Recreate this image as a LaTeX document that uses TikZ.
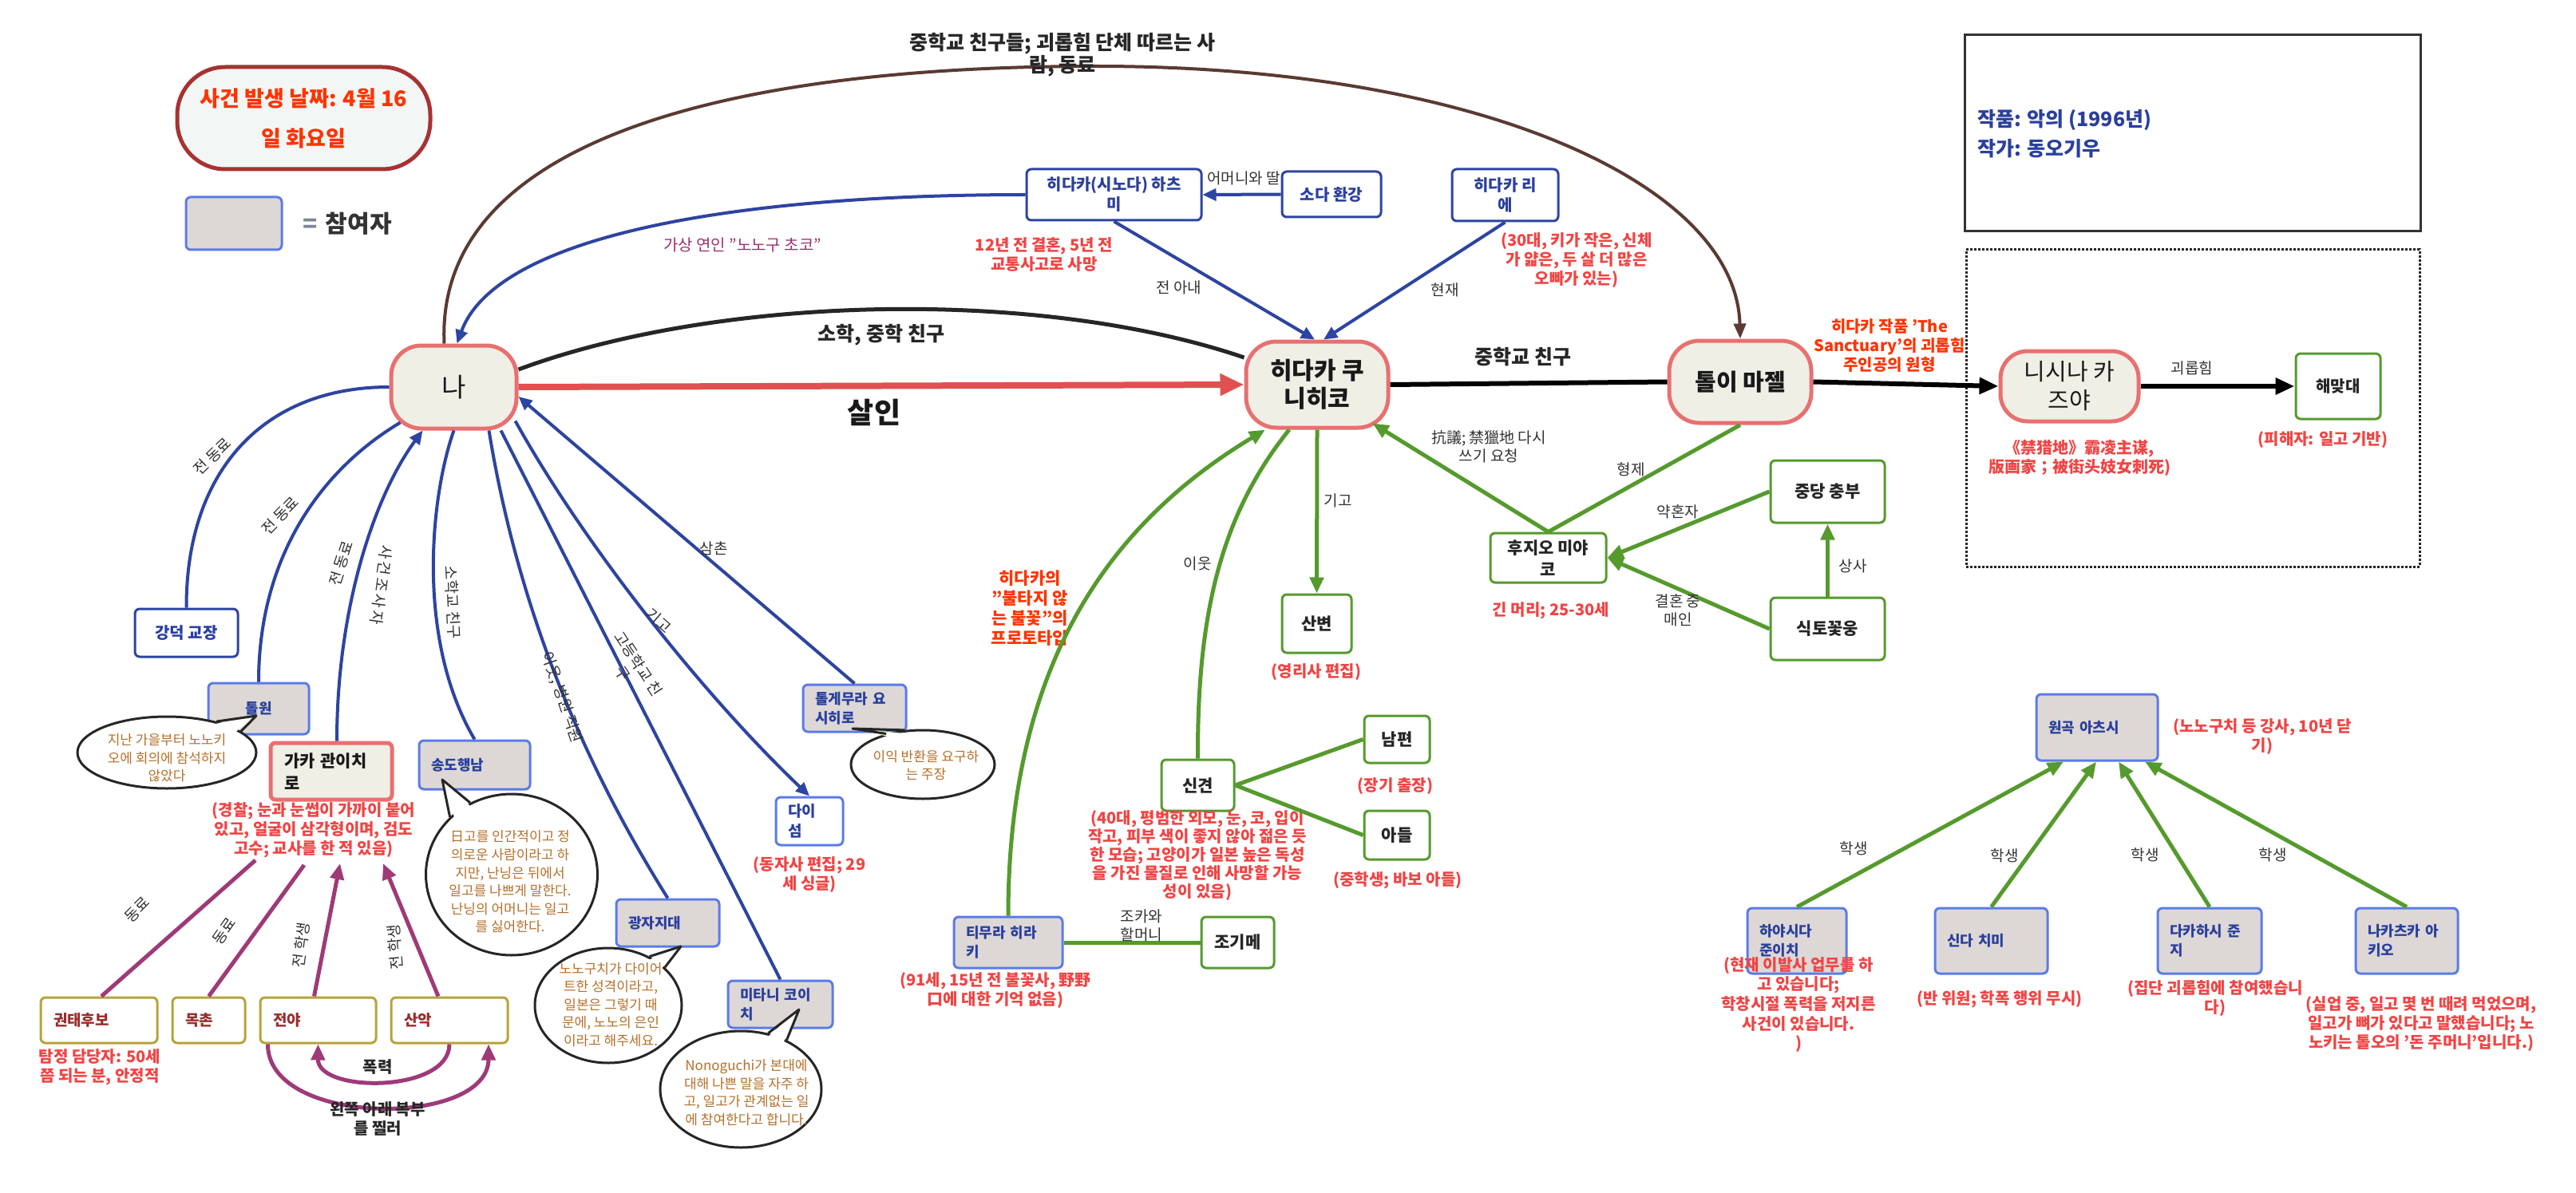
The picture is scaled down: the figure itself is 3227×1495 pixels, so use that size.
\documentclass[tikz,border=0pt]{standalone}
\usepackage{fontspec}
\setmainfont{Noto Sans CJK KR}
\usetikzlibrary{arrows.meta,shapes.geometric,calc}
\definecolor{blueE}{HTML}{2D44A0}
\definecolor{blueL}{HTML}{5B7BE8}
\definecolor{blueT}{HTML}{2A3F9E}
\definecolor{grayF}{HTML}{DDD8D6}
\definecolor{redB}{HTML}{E87070}
\definecolor{creamF}{HTML}{F0EFE6}
\definecolor{greenE}{HTML}{559A2D}
\definecolor{brownE}{HTML}{5A3A32}
\definecolor{purpE}{HTML}{9E3A78}
\definecolor{oliveE}{HTML}{B8A23A}
\definecolor{darkR}{HTML}{9A2D2D}
\definecolor{noteR}{HTML}{F04444}
\definecolor{noteO}{HTML}{FF3300}
\definecolor{bubT}{HTML}{B5702A}
\definecolor{lblT}{HTML}{333333}
\definecolor{dateB}{HTML}{A83232}
\definecolor{dateF}{HTML}{F2F7F6}
\definecolor{purpT}{HTML}{A03070}
\definecolor{redA}{HTML}{E05050}
\definecolor{eqG}{HTML}{7A8898}
\newcommand\myfs[2]{\fontsize{#1}{#2}\selectfont}
\tikzset{
 mainn/.style={draw=redB, fill=creamF, line width=5pt, rounded corners=38pt, align=center, text=black!90, inner sep=0pt},
 bbox/.style={draw=blueE, fill=white, line width=3pt, rounded corners=6pt, align=center, text=blueT, font=\bfseries\myfs{20}{25}, inner sep=0pt},
 pbox/.style={draw=blueL, fill=grayF, line width=3pt, rounded corners=6pt, align=left, text=blueT, font=\bfseries\myfs{18}{24}, inner xsep=15pt, inner ysep=0pt},
 gbox/.style={draw=greenE, fill=white, line width=3pt, rounded corners=6pt, align=center, text=black!85, font=\bfseries\myfs{21}{27}, inner sep=0pt},
 obox/.style={draw=oliveE, fill=white, line width=3pt, rounded corners=6pt, align=left, text=darkR, font=\bfseries\myfs{19}{24}, inner xsep=16pt, inner ysep=0pt},
 note/.style={text=noteR, font=\bfseries\myfs{20}{24}, align=center, inner sep=0pt},
 noteo/.style={note, text=noteO},
 elbl/.style={text=lblT, font=\myfs{19}{23}, align=center, inner sep=0pt},
 bigl/.style={text=black!85, font=\bfseries\myfs{25}{28}, align=center, inner sep=0pt},
 bline/.style={draw=blueE, line width=4pt},
 barrow/.style={bline, -{Triangle[length=17pt,width=15pt]}},
 gline/.style={draw=greenE, line width=5pt},
 garrow/.style={gline, -{Triangle[length=20pt,width=17pt]}},
 pline/.style={draw=purpE, line width=5pt},
 parrow/.style={pline, -{Triangle[length=20pt,width=17pt]}},
 kline/.style={draw=black, line width=6pt},
 karrow/.style={kline, -{Triangle[length=24pt,width=20pt]}},
 bubble/.style={ellipse, draw=black!85, fill=white, line width=3pt, inner sep=0pt},
 btext/.style={text=bubT, font=\myfs{17}{22.6}, align=center, inner sep=0pt},
 tail/.style={line width=3pt, draw=black!85, line join=round},
}
\begin{document}
\begin{tikzpicture}[x=1pt,y=-1pt]
\useasboundingbox (0,0) rectangle (3227,1495);
\fill[white] (0,0) rectangle (3227,1495);

% ---------- legend / info boxes
\node[draw=dateB, fill=dateF, line width=5pt, rounded corners=60pt, minimum width=317pt, minimum height=128pt, inner sep=0pt, align=center, text=noteO, font=\bfseries\myfs{27}{50}] (date) at (380.5,148) {사건 발생 날짜: 4월 16\\일 화요일};
\node[draw=blueL, fill=grayF, line width=3pt, rounded corners=6pt, minimum width=120pt, minimum height=66pt, inner sep=0pt] (legbox) at (293,280) {};
\node[anchor=west, inner sep=0pt, font=\bfseries\myfs{30}{36}] (legtxt) at ([xshift=25pt]legbox.east) {\textcolor{eqG}{=}\hspace{10pt}\textcolor{lblT}{참여자}};
\node[draw=black!80, line width=3pt, minimum width=571pt, minimum height=246pt, inner sep=0pt] (work) at (2746.5,167) {};
\node[anchor=west, inner sep=0pt, text=blueT, align=left, font=\bfseries\myfs{25}{37}] (worktxt) at (2477,168) {작품: 악의 (1996년)\\작가: 동오기우};
\node[draw=black!85, dotted, line width=3pt, minimum width=568pt, minimum height=397pt, inner sep=0pt] (dotbox) at (2747,511.5) {};

% ---------- main nodes
\node[mainn, minimum width=157pt, minimum height=104pt, font=\myfs{33}{40}] (na) at (568.5,485) {나};
\node[mainn, minimum width=178pt, minimum height=108pt, font=\bfseries\myfs{30}{35}] (hida) at (1650,482) {히다카 쿠\\니히코};
\node[mainn, minimum width=178pt, minimum height=103pt, font=\bfseries\myfs{29}{36}] (tolee) at (2180,478.5) {톨이 마젤};
\node[mainn, minimum width=173pt, minimum height=88pt, rounded corners=34pt, font=\myfs{29}{36}] (nishi) at (2592.5,484) {니시나 카\\즈야};
\node[gbox, minimum width=106pt, minimum height=82pt, font=\bfseries\myfs{20}{25}] (haemat) at (2929,484) {해맞대};

% ---------- blue boxes
\node[bbox, minimum width=219pt, minimum height=64pt] (hatsumi) at (1395.5,244) {히다카(시노다) 하츠\\미};
\node[bbox, minimum width=124pt, minimum height=57pt] (soda) at (1668,243.5) {소다 환강};
\node[bbox, minimum width=133pt, minimum height=65pt] (rie) at (1885.5,244.5) {히다카 리\\에};
\node[bbox, minimum width=129pt, minimum height=60pt] (kangdeok) at (233.5,793) {강덕 교장};
\node[draw=blueL, fill=white, line width=3pt, rounded corners=6pt, text=blueT, font=\bfseries\myfs{19}{25}, align=left, minimum height=60pt, text width=54pt, inner xsep=15pt, inner ysep=0pt] (daisum) at (1014,1029) {다이\\섬};

% ---------- participant boxes
\node[pbox, align=center, minimum height=64pt, text width=96pt] (tolwon) at (324,888) {톨원};
\node[draw=redB, fill=creamF, line width=5pt, rounded corners=6pt, align=left, text=black!90, font=\bfseries\myfs{21}{28}, inner xsep=17pt, inner ysep=0pt, minimum height=71pt, text width=118pt] (gaka) at (415,966.5) {가카 관이치\\로};
\node[pbox, minimum height=61pt, text width=109pt] (songdo) at (594.5,958.5) {송도행남};
\node[pbox, minimum height=59pt, text width=99pt] (gwangja) at (836.5,1156.5) {광자지대};
\node[pbox, minimum height=59pt, text width=101pt] (mitani) at (977.5,1258.5) {미타니 코이\\치};
\node[pbox, minimum height=59pt, text width=99pt] (tolge) at (1070.5,887.5) {톨게무라 요\\시히로};
\node[pbox, minimum height=64pt, text width=106pt] (timura) at (1263,1181) {티무라 히라\\키};
\node[pbox, minimum height=83pt, text width=122pt] (wongok) at (2627,911.5) {원곡 아츠시};
\node[pbox, minimum height=82pt, text width=94pt] (hayashi) at (2251,1179) {하야시다\\준이치};
\node[pbox, minimum height=82pt, text width=111pt] (shinda) at (2494.5,1179) {신다 치미};
\node[pbox, minimum height=82pt, text width=100pt] (takahashi) at (2768,1179) {다카하시 준\\지};
\node[pbox, minimum height=82pt, text width=98pt] (nakatsuka) at (3015,1179) {나카츠카 아\\키오};

% ---------- green boxes
\node[gbox, minimum width=87pt, minimum height=73pt] (sanbyeon) at (1649.5,781.5) {산변};
\node[gbox, minimum width=91pt, minimum height=64pt] (sinkyun) at (1500.5,984) {신견};
\node[gbox, minimum width=82pt, minimum height=59pt] (nampyeon) at (1750,926.5) {남편};
\node[gbox, minimum width=82pt, minimum height=61pt] (adeul) at (1750,1046.5) {아들};
\node[gbox, minimum width=91pt, minimum height=64pt] (jogime) at (1550.5,1181) {조기메};
\node[gbox, minimum width=145pt, minimum height=62pt] (fujio) at (1939.5,699) {후지오 미야\\코};
\node[gbox, minimum width=143pt, minimum height=78pt] (chungbu) at (2289.5,616) {중당 충부};
\node[gbox, minimum width=143pt, minimum height=78pt] (siktok) at (2289.5,788) {식토꽃웅};

% ---------- olive boxes
\node[obox, minimum height=57pt, text width=114pt] (kwontae) at (124,1278.5) {권태후보};
\node[obox, minimum height=57pt, text width=59pt] (mokchon) at (261.5,1278.5) {목촌};
\node[obox, minimum height=57pt, text width=113pt] (jeonya) at (398.5,1278.5) {전야};
\node[obox, minimum height=57pt, text width=114pt] (sanak) at (563,1278.5) {산악};

% ---------- notes
\node[note] (hatsuminote) at (1308,319.5) {12년 전 결혼, 5년 전\\교통사고로 사망};
\node[note] (rienote) at (1975,326) {(30대, 키가 작은, 신체\\가 얇은, 두 살 더 많은\\오빠가 있는)};
\node[noteo] (toleenote) at (2367,433) {히다카 작품 'The\\Sanctuary'의 괴롭힘\\주인공의 원형};
\node[note] (nishinote) at (2605,574) {《禁猎地》霸凌主谋,\\版画家；被街头妓女刺死)};
\node[note] (haematnote) at (2910,551) {(피해자: 일고 기반)};
\node[note] (fujionote) at (1943,765) {긴 머리; 25-30세};
\node[note] (sanbyeonnote) at (1649,842) {(영리사 편집)};
\node[note] (nampyeonnote) at (1748,985) {(장기 출장)};
\node[note] (adeulnote) at (1751,1103) {(중학생; 바보 아들)};
\node[note, font=\bfseries\myfs{20}{23}] (sinkyunnote) at (1500,1072) {(40대, 평범한 외모, 눈, 코, 입이\\작고, 피부 색이 좋지 않아 젊은 듯\\한 모습; 고양이가 일본 높은 독성\\을 가진 물질로 인해 사망할 가능\\성이 있음)};
\node[note] (timuranote) at (1247,1241) {(91세, 15년 전 불꽃사, 野野\\口에 대한 기억 없음)};
\node[noteo, font=\bfseries\myfs{21}{25}] (firenote) at (1290,762) {히다카의\\"불타지 않\\는 불꽃"의\\프로토타입};
\node[note] (gakanote) at (393,1040) {(경찰; 눈과 눈썹이 가까이 붙어\\있고, 얼굴이 삼각형이며, 검도\\고수; 교사를 한 적 있음)};
\node[note] (kwontaenote) at (125,1337) {탐정 담당자: 50세\\쯤 되는 분, 안정적};
\node[note] (daisumnote) at (1014,1096) {(동자사 편집; 29\\세 싱글)};
\node[note] (wongoknote) at (2834,923) {(노노구치 등 강사, 10년 닫\\기)};
\node[note, font=\bfseries\myfs{20}{24.6}] (hayashinote) at (2253,1259) {(현재 이발사 업무를 하\\고 있습니다;\\학창시절 폭력을 저지른\\사건이 있습니다.\\)};
\node[note] (shindanote) at (2505,1252) {(반 위원; 학폭 행위 무시)};
\node[note] (takahashinote) at (2775,1251) {(집단 괴롭힘에 참여했습니\\다)};
\node[note] (nakatsukanote) at (3033,1283) {(실업 중, 일고 몇 번 때려 먹었으며,\\일고가 뼈가 있다고 말했습니다; 노\\노키는 톨오의 '돈 주머니'입니다.)};

% ---------- connectors: top
\draw[draw=brownE, line width=4pt, -{Triangle[length=19pt,width=15pt]}] ([xshift=-12pt]na.north) .. controls (545,180) and (900,83) .. (1374,83) .. controls (1850,83) and (2175,230) .. (tolee.north);
\draw[barrow] (hatsumi.west) .. controls (900,244) and (620,300) .. ([xshift=4pt]na.north);
\draw[line width=5pt, black!85] ([yshift=22pt]na.east) .. controls (900,370) and (1300,360) .. ([yshift=34pt]hida.west);
\draw[draw=redA, line width=8pt, -{Triangle[length=30pt,width=26pt]}] (na.east) -- (hida.west);
\draw[barrow] (hatsumi.south) -- ([xshift=-3pt]hida.north);
\draw[barrow] (soda.west) -- (hatsumi.east);
\draw[barrow] (rie.south) -- ([xshift=8pt]hida.north);
\draw[kline] (hida.east) -- (tolee.west);
\draw[karrow] (tolee.east) -- (nishi.west);
\draw[karrow] (nishi.east) -- (haemat.west);

% ---------- connectors: 나 lower
\draw[bline] (kangdeok.north) .. controls (233,590) and (330,485) .. (na.west);
\draw[bline] (tolwon.north) .. controls (324,700) and (400,590) .. ([xshift=14pt,yshift=10pt]na.south west);
\draw[barrow] ([xshift=7pt]gaka.north) .. controls (422,760) and (470,620) .. ([xshift=-39pt]na.south);
\draw[bline] (songdo.north) .. controls (520,800) and (540,620) .. (na.south);
\draw[bline] ([xshift=44pt]na.south) .. controls (646,745) and (720,940) .. (gwangja.north);
\draw[bline] ([xshift=59pt]na.south) -- (mitani.north);
\draw[barrow] ([xshift=-4pt,yshift=12pt]na.south east) .. controls (730,680) and (880,870) .. (daisum.north);
\draw[barrow] (tolge.north) -- ([yshift=-12pt]na.east);

% ---------- connectors: green
\draw[garrow] (hida.south) -- (sanbyeon.north);
\draw[garrow] (timura.north) .. controls (1263,820) and (1400,650) .. ([xshift=-65pt]hida.south);
\draw[gline] (sinkyun.north) .. controls (1500,780) and (1525,650) .. ([xshift=-35pt]hida.south);
\draw[gline] (sinkyun.east) -- (nampyeon.west);
\draw[gline] (sinkyun.east) -- (adeul.west);
\draw[gline] (timura.east) -- (jogime.west);
\draw[garrow] (fujio.north) -- ([xshift=-22pt,yshift=8pt]hida.south east);
\draw[gline] (tolee.south) -- (fujio.north);
\draw[garrow] (chungbu.west) -- (fujio.east);
\draw[garrow] (siktok.west) -- (fujio.east);
\draw[garrow] (siktok.north) -- (chungbu.south);
\draw[garrow] (hayashi.north) -- ([xshift=-42pt]wongok.south);
\draw[garrow] (shinda.north) -- ([xshift=-1pt]wongok.south);
\draw[garrow] (takahashi.north) -- ([xshift=27pt]wongok.south);
\draw[garrow] (nakatsuka.north) -- ([xshift=60pt]wongok.south);

% ---------- connectors: purple
\coordinate (gk1) at (320,1078);
\coordinate (gk2) at (381,1084);
\coordinate (gk3) at (426,1082);
\coordinate (gk4) at (480,1082);
\draw[pline] ([xshift=3pt]kwontae.north) -- (gk1);
\draw[pline] (mokchon.north) -- (gk2);
\draw[parrow] ([xshift=-5pt]jeonya.north) -- (gk3);
\draw[parrow] ([xshift=-14pt]sanak.north) -- (gk4);
\draw[parrow] (sanak.south) .. controls (563,1370) and (398,1370) .. (jeonya.south);
\draw[parrow] ([xshift=-63pt]jeonya.south) .. controls (335,1413) and (612,1413) .. ([xshift=49pt]sanak.south);

% ---------- bubbles
\node[bubble, minimum width=224pt, minimum height=90pt] (bub1) at (209,943) {};
\fill[white] ($(bub1.center)!0.9!(bub1.32)$) -- (321,897) -- ($(bub1.center)!0.9!(bub1.16)$) -- cycle;
\draw[tail] (bub1.32) -- (321,897) -- (bub1.16);
\node[btext] (bub1t) at (209,950) {지난 가을부터 노노키\\오에 회의에 참석하지\\않았다};

\node[bubble, minimum width=215pt, minimum height=202pt] (bub2) at (641,1096) {};
\fill[white] ($(bub2.center)!0.9!(bub2.137)$) -- (554,977) -- ($(bub2.center)!0.9!(bub2.120)$) -- cycle;
\draw[tail] (bub2.137) -- (554,977) -- (bub2.120);
\node[btext] (bub2t) at (639,1105) {日고를 인간적이고 정\\의로운 사람이라고 하\\지만, 난닝은 뒤에서\\일고를 나쁘게 말한다.\\난닝의 어머니는 일고\\를 싫어한다.};

\node[bubble, minimum width=184pt, minimum height=144pt] (bub3) at (762,1260) {};
\fill[white] ($(bub3.center)!0.9!(bub3.50)$) -- (853,1186) -- ($(bub3.center)!0.9!(bub3.34)$) -- cycle;
\draw[tail] (bub3.50) -- (853,1186) -- (bub3.34);
\node[btext] (bub3t) at (765,1259) {노노구치가 다이어\\트한 성격이라고,\\일본은 그렇기 때\\문에, 노노의 은인\\이라고 해주세요.};

\node[bubble, minimum width=202pt, minimum height=146pt] (bub4) at (928,1365) {};
\fill[white] ($(bub4.center)!0.9!(bub4.64)$) -- (1001,1265) -- ($(bub4.center)!0.9!(bub4.47)$) -- cycle;
\draw[tail] (bub4.64) -- (1001,1265) -- (bub4.47);
\node[btext] (bub4t) at (935,1369) {Nonoguchi가 본대에\\대해 나쁜 말을 자주 하\\고, 일고가 관계없는 일\\에 참여한다고 합니다.};

\node[bubble, minimum width=180pt, minimum height=86pt] (bub5) at (1156,958) {};
\fill[white] ($(bub5.center)!0.9!(bub5.140)$) -- (1068,913) -- ($(bub5.center)!0.9!(bub5.118)$) -- cycle;
\draw[tail] (bub5.140) -- (1068,913) -- (bub5.118);
\node[btext] (bub5t) at (1160,959) {이익 반환을 요구하\\는 주장};

% ---------- labels
\node[text=black!85, font=\bfseries\myfs{25}{28}, align=center, inner sep=0pt] (toplbl) at (1331,69) {중학교 친구들; 괴롭힘 단체 따르는 사\\람, 동료};
\node[bigl] (l_sohak) at (1104,420) {소학, 중학 친구};
\node[bigl] (l_jung) at (1908,447) {중학교 친구};
\node[text=black!90, font=\bfseries\myfs{36}{40}, inner sep=0pt] (l_murder) at (1095,517) {살인};
\node[text=purpT, font=\myfs{20}{24}, inner sep=0pt] (l_virtual) at (930,307) {가상 연인 "노노구 초코"};
\node[elbl] (l_mother) at (1558,223) {어머니와 딸};
\node[elbl] (l_exwife) at (1477,360) {전 아내};
\node[elbl] (l_now) at (1810,363) {현재};
\node[elbl] (l_protest) at (1865,560) {抗議; 禁獵地 다시\\쓰기 요청};
\node[elbl] (l_bro) at (2043,588) {형제};
\node[elbl] (l_fiance) at (2102,641) {약혼자};
\node[elbl] (l_match) at (2102,765) {결혼 중\\매인};
\node[elbl] (l_boss) at (2321,709) {상사};
\node[elbl] (l_contrib) at (1676,627) {기고};
\node[elbl] (l_neigh) at (1500,706) {이웃};
\node[elbl] (l_niece) at (1430,1160) {조카와\\할머니};
\node[elbl] (l_bully) at (2746,461) {괴롭힘};
\node[elbl] (l_st1) at (2322,1063) {학생};
\node[elbl] (l_st2) at (2511,1072) {학생};
\node[elbl] (l_st3) at (2687,1071) {학생};
\node[elbl] (l_st4) at (2847,1071) {학생};
\node[elbl] (l_uncle) at (894,687) {삼촌};
\node[elbl, rotate=44] (l_co1) at (266,572) {전 동료};
\node[elbl, rotate=46] (l_co2) at (351,646) {전 동료};
\node[elbl, rotate=72] (l_co3) at (427,706) {전 동료};
\node[elbl, rotate=-98] (l_invest) at (478,733) {사\,건\,조\,사\,자};
\node[elbl, rotate=-87] (l_elem) at (567,755) {소학교 친구};
\node[elbl, rotate=-71] (l_hosp) at (704,874) {이웃, 병원 직원};
\node[elbl, rotate=-57] (l_high) at (790,838) {고등학교 친\\구};
\node[elbl, rotate=-41] (l_contrib2) at (825,778) {기고};
\node[elbl, rotate=45] (l_p1) at (172,1140) {동료};
\node[elbl, rotate=55] (l_p2) at (281,1167) {동료};
\node[elbl, rotate=82] (l_p3) at (377,1184) {전 학생};
\node[elbl, rotate=95] (l_p4) at (495,1187) {전 학생};
\node[text=black!85, font=\bfseries\myfs{20}{24}, inner sep=0pt] (l_viol) at (473,1337) {폭력};
\node[text=black!85, font=\bfseries\myfs{20}{24}, align=center, inner sep=0pt] (l_stab) at (473,1402) {왼쪽 아래 복부\\를 찔러};
\end{tikzpicture}
\end{document}
